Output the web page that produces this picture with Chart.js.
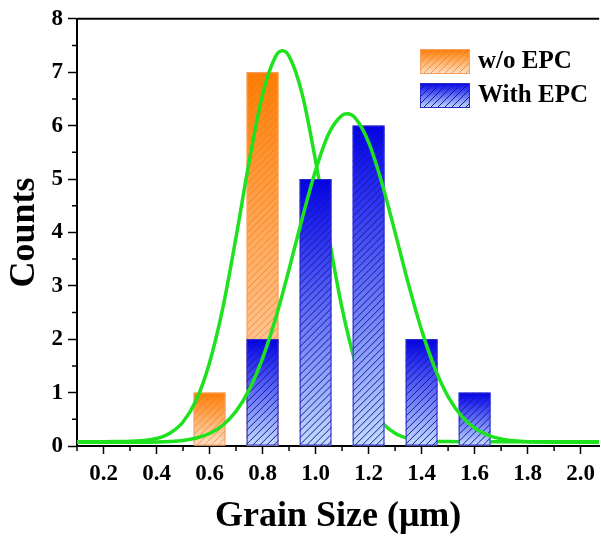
<!DOCTYPE html>
<html>
<head>
<meta charset="utf-8">
<script src="https://cdn.jsdelivr.net/npm/chart.js@4/dist/chart.umd.min.js"></script>
<style>
  html, body { margin: 0; padding: 0; background: #fff; }
  #wrap { width: 601px; height: 540px; }
</style>
</head>
<body>
<div id="wrap"><canvas id="grain-chart" width="601" height="540"></canvas></div>
<script>
// histogram counts
const sizesNoEpc = [0.6, 0.8];
const countsNoEpc = [1, 7];
const sizesEpc = [0.8, 1.0, 1.2, 1.4, 1.6];
const countsEpc = [2, 5, 6, 2, 1];

// gaussian fit curves
const fitNoEpcX = [0.10, 0.15, 0.20, 0.25, 0.30, 0.35, 0.40, 0.45, 0.50, 0.55, 0.60, 0.65, 0.70, 0.75, 0.80, 0.85, 0.875,
    0.90, 0.95, 1.00, 1.05, 1.10, 1.15, 1.20, 1.25, 1.30, 1.35, 1.40, 1.45, 1.50, 1.55, 1.60, 1.70, 1.80, 1.90, 2.00, 2.07];
const fitNoEpcY = [0.08, 0.08, 0.08, 0.082, 0.087, 0.101, 0.141, 0.24, 0.45, 0.86, 1.56, 2.58, 3.91, 5.34, 6.58, 7.30, 7.40,
    7.30, 6.58, 5.34, 3.91, 2.58, 1.56, 0.86, 0.45, 0.24, 0.141, 0.101, 0.087, 0.082, 0.08, 0.08, 0.08, 0.08, 0.08, 0.08, 0.08];
const fitEpcX = [0.10, 0.20, 0.30, 0.35, 0.40, 0.45, 0.50, 0.55, 0.60, 0.65, 0.70, 0.75, 0.80, 0.85, 0.90, 0.95, 1.00, 1.05,
    1.10, 1.12, 1.15, 1.20, 1.25, 1.30, 1.35, 1.40, 1.45, 1.50, 1.55, 1.60, 1.65, 1.70, 1.75, 1.80, 1.85, 1.90, 2.00, 2.07];
const fitEpcY = [0.07, 0.07, 0.07, 0.072, 0.076, 0.085, 0.105, 0.149, 0.234, 0.389, 0.65, 1.056, 1.64, 2.40, 3.31, 4.27, 5.16, 5.85,
    6.19, 6.22, 6.14, 5.69, 4.93, 4.00, 3.04, 2.17, 1.46, 0.926, 0.564, 0.336, 0.204, 0.133, 0.098, 0.081, 0.075, 0.072, 0.07, 0.07];

// axis ticks
const xTicks = [0.2, 0.4, 0.6, 0.8, 1.0, 1.2, 1.4, 1.6, 1.8, 2.0];
const yTicks = [0, 1, 2, 3, 4, 5, 6, 7, 8];

const serif = "'Liberation Serif', 'Times New Roman', serif";
const fitGreen = '#1ee21e';

const orangePaint = { top: '#ff7d00', bottom: '#ffe0c6', hatch: 'rgba(225,120,50,0.65)', edge: '#f4a060', gap: 7 };
const bluePaint = { top: '#0000f0', bottom: '#c2dcff', hatch: '#1a1a8c', edge: '#2a2ac8', gap: 7 };

function toPoints(xs, ys) {
    return xs.map((x, i) => ({ x: x, y: ys[i] }));
}

// gradient box with diagonal hatch, used for bars and legend keys
function paintBox(ctx, x, y, w, h, p) {
    if (h <= 0) return;
    ctx.save();
    const g = ctx.createLinearGradient(0, y, 0, y + h);
    g.addColorStop(0, p.top);
    g.addColorStop(1, p.bottom);
    ctx.fillStyle = g;
    ctx.fillRect(x, y, w, h);
    ctx.beginPath();
    ctx.rect(x, y, w, h);
    ctx.clip();
    ctx.strokeStyle = p.hatch;
    ctx.lineWidth = 1;
    ctx.beginPath();
    for (let t = -h; t < w; t += p.gap) {
        ctx.moveTo(x + t, y + h);
        ctx.lineTo(x + t + h, y);
    }
    ctx.stroke();
    ctx.restore();
    ctx.save();
    ctx.strokeStyle = p.edge;
    ctx.lineWidth = 1;
    ctx.strokeRect(x + 0.5, y + 0.5, w - 1, h - 1);
    ctx.restore();
}

const histPlugin = {
    id: 'histPlugin',
    afterDatasetDraw(chart, args) {
        if (args.meta.type !== 'bar') return;
        const ds = chart.data.datasets[args.index];
        const ctx = chart.ctx;
        args.meta.data.forEach(bar => {
            paintBox(ctx, bar.x - bar.width / 2, bar.y, bar.width, bar.base - bar.y, ds.paint);
        });
    },
    afterDraw(chart) {
        const ctx = chart.ctx;
        const area = chart.chartArea;
        const xs = chart.scales.x;
        const ys = chart.scales.y;
        ctx.save();
        ctx.strokeStyle = '#000';
        // top frame line
        ctx.lineWidth = 2;
        ctx.beginPath();
        ctx.moveTo(area.left, area.top);
        ctx.lineTo(area.right, area.top);
        ctx.stroke();
        // minor ticks
        ctx.lineWidth = 1.5;
        ctx.beginPath();
        xTicks.concat([xTicks[xTicks.length - 1] + 0.2]).forEach(v => {
            const m = v - 0.1;
            if (m < xs.min || m > xs.max) return;
            const px = xs.getPixelForValue(m);
            ctx.moveTo(px, area.bottom);
            ctx.lineTo(px, area.bottom + 5);
        });
        yTicks.slice(0, -1).forEach(v => {
            const py = ys.getPixelForValue(v + 0.5);
            ctx.moveTo(area.left, py);
            ctx.lineTo(area.left - 5, py);
        });
        ctx.stroke();
        // legend
        ctx.font = 'bold 25px ' + serif;
        ctx.fillStyle = '#000';
        ctx.textBaseline = 'middle';
        ctx.textAlign = 'left';
        let ly = 49;
        chart.data.datasets.forEach(ds => {
            if (!ds.paint) return;
            paintBox(ctx, 420, ly, 50, 25, ds.paint);
            ctx.fillText(ds.label, 478, ly + 13);
            ly += 34;
        });
        ctx.restore();
    }
};

const tickFont = { family: serif, size: 23, weight: 'bold' };
const titleFont = { family: serif, size: 36, weight: 'bold', lineHeight: 1.2 };

const ctx = document.getElementById('grain-chart').getContext('2d');
const grainChart = new Chart(ctx, {
    type: 'bar',
    data: {
        datasets: [
            {
                label: 'w/o EPC',
                data: toPoints(sizesNoEpc, countsNoEpc),
                backgroundColor: 'rgba(0,0,0,0)',
                borderWidth: 0,
                paint: orangePaint,
                order: 4
            },
            {
                type: 'line',
                label: 'Fit w/o EPC',
                data: toPoints(fitNoEpcX, fitNoEpcY),
                borderColor: fitGreen,
                borderWidth: 3.5,
                pointRadius: 0,
                fill: false,
                cubicInterpolationMode: 'monotone',
                order: 3
            },
            {
                label: 'With EPC',
                data: toPoints(sizesEpc, countsEpc),
                backgroundColor: 'rgba(0,0,0,0)',
                borderWidth: 0,
                paint: bluePaint,
                order: 2
            },
            {
                type: 'line',
                label: 'Fit With EPC',
                data: toPoints(fitEpcX, fitEpcY),
                borderColor: fitGreen,
                borderWidth: 3.5,
                pointRadius: 0,
                fill: false,
                cubicInterpolationMode: 'monotone',
                order: 1
            }
        ]
    },
    options: {
        responsive: false,
        animation: false,
        devicePixelRatio: 1,
        layout: { padding: { top: 18, left: 0, right: 0, bottom: 0 } },
        datasets: {
            bar: { grouped: false, barPercentage: 0.6, categoryPercentage: 1.0 }
        },
        plugins: {
            legend: { display: false },
            tooltip: { enabled: false }
        },
        scales: {
            x: {
                type: 'linear',
                min: 0.1,
                max: 2.07,
                offset: false,
                afterBuildTicks: s => { s.ticks = xTicks.map(v => ({ value: v })); },
                afterFit: s => { s.height = 94; },
                ticks: {
                    callback: v => Number(v).toFixed(1),
                    font: tickFont,
                    color: '#000',
                    padding: 6,
                    autoSkip: false,
                    maxRotation: 0
                },
                grid: { drawOnChartArea: false, offset: false, tickLength: 8, tickWidth: 1.5, tickColor: '#000' },
                border: { color: '#000', width: 2 },
                title: {
                    display: true,
                    text: 'Grain Size (μm)',
                    font: titleFont,
                    color: '#000',
                    padding: { top: 0, bottom: 2 }
                }
            },
            y: {
                type: 'linear',
                min: 0,
                max: 8,
                afterBuildTicks: s => { s.ticks = yTicks.map(v => ({ value: v })); },
                afterFit: s => { s.width = 77; },
                ticks: {
                    font: tickFont,
                    color: '#000',
                    padding: 5
                },
                grid: { drawOnChartArea: false, tickLength: 9, tickWidth: 1.5, tickColor: '#000' },
                border: { color: '#000', width: 2 },
                title: {
                    display: true,
                    text: 'Counts',
                    font: titleFont,
                    color: '#000',
                    padding: { top: 3, bottom: 0 }
                }
            }
        }
    },
    plugins: [histPlugin]
});
</script>
</body>
</html>
